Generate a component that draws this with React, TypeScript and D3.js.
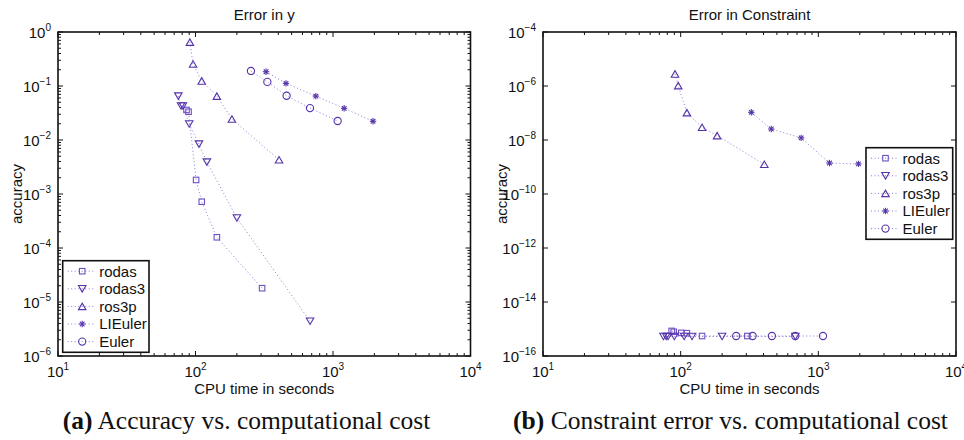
import React from "react";
import * as d3 from "d3";

// ---------- data ----------
const seriesNames = ["rodas", "rodas3", "ros3p", "LIEuler", "Euler"];

const rodasTime = [86, 89, 101, 111, 143, 305];
const rodasErrY = [0.036, 0.0334, 0.00182, 7.2e-4, 1.58e-4, 1.8e-5];
const rodasErrC = [8.5e-16, 7.9e-16, 7.2e-16, 7e-16, 5.5e-16, 5.5e-16];

const rodas3Time = [75, 78.5, 81, 90, 106, 121, 200, 681];
const rodas3ErrY = [0.065, 0.0426, 0.0426, 0.0198, 0.0084, 0.0039, 3.6e-4, 4.4e-6];
const rodas3ErrC = [5.3e-16, 5.3e-16, 5.3e-16, 5.3e-16, 5.3e-16, 5.3e-16, 5.3e-16, 5.3e-16];

const ros3pTime = [91, 96, 111, 143, 184, 405];
const ros3pErrY = [0.65, 0.255, 0.124, 0.065, 0.0245, 0.0043];
const ros3pErrC = [2.8e-6, 1.03e-6, 1.03e-7, 2.95e-8, 1.45e-8, 1.26e-9];

const lieulerTime = [326, 455, 750, 1205, 1955];
const lieulerErrY = [0.184, 0.112, 0.065, 0.0386, 0.0222];
const lieulerErrC = [1.06e-7, 2.55e-8, 1.2e-8, 1.4e-9, 1.3e-9];

const eulerTime = [253, 333, 460, 680, 1081];
const eulerErrY = [0.19, 0.119, 0.066, 0.039, 0.0225];
const eulerErrC = [5.5e-16, 5.5e-16, 5.5e-16, 5.5e-16, 5.5e-16];

const xTickExps = [1, 2, 3, 4];
const yTickExpsLeft = [0, -1, -2, -3, -4, -5, -6];
const yTickExpsRight = [-4, -6, -8, -10, -12, -14, -16];

const titles = ["Error in y", "Error in Constraint"];
const xLabel = "CPU time in seconds";
const yLabel = "accuracy";
const captionLetters = ["(a)", "(b)"];
const captionTexts = [" Accuracy vs. computational cost", " Constraint error vs. computational cost"];

// ---------- styling ----------
const markerColor = "#5532a8";
const rodasColor = "#6d4fc2";
const lineColor = "#8a7ad8";
const sans = "'Liberation Sans', Arial, Helvetica, sans-serif";
const serif = "'Liberation Serif', 'Times New Roman', serif";
const FS = 15;

type Series = { name: string; x: number[]; y: number[]; marker: string; color: string };

function Marker({ type, cx, cy, color }: { type: string; cx: number; cy: number; color: string }) {
  const sw = 1.1;
  if (type === "square") {
    const s = 5.5;
    return <rect x={cx - s / 2} y={cy - s / 2} width={s} height={s} fill="none" stroke={color} strokeWidth={sw} />;
  }
  if (type === "down") {
    const w = 7.5, h = 6.5;
    return (
      <path
        d={`M${cx - w / 2},${cy - h / 2}L${cx + w / 2},${cy - h / 2}L${cx},${cy + h / 2}Z`}
        fill="none" stroke={color} strokeWidth={sw}
      />
    );
  }
  if (type === "up") {
    const w = 7.5, h = 6.5;
    return (
      <path
        d={`M${cx - w / 2},${cy + h / 2}L${cx + w / 2},${cy + h / 2}L${cx},${cy - h / 2}Z`}
        fill="none" stroke={color} strokeWidth={sw}
      />
    );
  }
  if (type === "star") {
    const r = 3.2, d = 2.3;
    return (
      <g stroke={color} strokeWidth={1.1}>
        <line x1={cx - r} y1={cy} x2={cx + r} y2={cy} />
        <line x1={cx} y1={cy - r} x2={cx} y2={cy + r} />
        <line x1={cx - d} y1={cy - d} x2={cx + d} y2={cy + d} />
        <line x1={cx - d} y1={cy + d} x2={cx + d} y2={cy - d} />
      </g>
    );
  }
  return <circle cx={cx} cy={cy} r={3.6} fill="none" stroke={color} strokeWidth={sw} />;
}

function PowerLabel({ x, y, exp, anchor }: { x: number; y: number; exp: number; anchor: string }) {
  const e = exp < 0 ? "\u2212" + Math.abs(exp) : String(exp);
  return (
    <text x={x} y={y} textAnchor={anchor} fontFamily={sans} fontSize={FS} fill="#111">
      10<tspan dy={-7} fontSize={10}>{e}</tspan>
    </text>
  );
}

function Panel({
  x0, x1, y0, y1, yDomain, yTicks, series, title, legend, yMinor,
}: {
  x0: number; x1: number; y0: number; y1: number; yDomain: [number, number]; yTicks: number[];
  series: Series[]; title: string; legend: { x: number; y: number; w: number; h: number }; yMinor: boolean;
}) {
  const xs = d3.scaleLog().domain([10, 10000]).range([x0, x1]);
  const ys = d3.scaleLog().domain(yDomain).range([y1, y0]);
  const line = d3.line<[number, number]>().x((d) => xs(d[0])).y((d) => ys(d[1]));

  const xMinor: number[] = [];
  for (let e = 1; e < 4; e++) for (let m = 2; m <= 9; m++) xMinor.push(m * Math.pow(10, e));
  const yMinorVals: number[] = [];
  if (yMinor) {
    const lo = Math.round(Math.log10(yDomain[0]));
    const hi = Math.round(Math.log10(yDomain[1]));
    for (let e = lo; e < hi; e++) for (let m = 2; m <= 9; m++) yMinorVals.push(m * Math.pow(10, e));
  }
  const maj = 5, mnr = 3;

  return (
    <g>
      <text x={(x0 + x1) / 2} y={20} textAnchor="middle" fontFamily={sans} fontSize={FS} fill="#111">{title}</text>
      {series.map((s) => (
        <path
          key={s.name + "l"}
          d={line(s.x.map((v, i) => [v, s.y[i]] as [number, number])) || ""}
          fill="none" stroke={lineColor} strokeWidth={1} strokeDasharray="1,2.5"
        />
      ))}
      {series.map((s) =>
        s.x.map((v, i) => (
          <Marker key={s.name + i} type={s.marker} cx={xs(v)} cy={ys(s.y[i])} color={s.color} />
        ))
      )}
      <g stroke="#111" strokeWidth={1}>
        {xTickExps.map((e) => {
          const x = xs(Math.pow(10, e));
          return (
            <g key={"xt" + e}>
              <line x1={x} x2={x} y1={y1} y2={y1 - maj} />
              <line x1={x} x2={x} y1={y0} y2={y0 + maj} />
            </g>
          );
        })}
        {xMinor.map((v) => {
          const x = xs(v);
          return (
            <g key={"xm" + v}>
              <line x1={x} x2={x} y1={y1} y2={y1 - mnr} />
              <line x1={x} x2={x} y1={y0} y2={y0 + mnr} />
            </g>
          );
        })}
        {yTicks.map((e) => {
          const y = ys(Math.pow(10, e));
          return (
            <g key={"yt" + e}>
              <line x1={x0} x2={x0 + maj} y1={y} y2={y} />
              <line x1={x1} x2={x1 - maj} y1={y} y2={y} />
            </g>
          );
        })}
        {yMinorVals.map((v) => {
          const y = ys(v);
          return (
            <g key={"ym" + v}>
              <line x1={x0} x2={x0 + mnr} y1={y} y2={y} />
              <line x1={x1} x2={x1 - mnr} y1={y} y2={y} />
            </g>
          );
        })}
      </g>
      <rect x={x0} y={y0} width={x1 - x0} height={y1 - y0} fill="none" stroke="#111" strokeWidth={1.6} />
      {xTickExps.map((e) => (
        <PowerLabel key={"xl" + e} x={xs(Math.pow(10, e))} y={y1 + 21} exp={e} anchor="middle" />
      ))}
      {yTicks.map((e) => (
        <PowerLabel key={"yl" + e} x={x0 - 7} y={ys(Math.pow(10, e)) + 5.5} exp={e} anchor="end" />
      ))}
      <text x={(x0 + x1) / 2} y={y1 + 37.5} textAnchor="middle" fontFamily={sans} fontSize={FS} fill="#111">{xLabel}</text>
      <text
        transform={`translate(${x0 - 36},${(y0 + y1) / 2}) rotate(-90)`}
        textAnchor="middle" fontFamily={sans} fontSize={FS} fill="#111"
      >{yLabel}</text>
      <g>
        <rect x={legend.x} y={legend.y} width={legend.w} height={legend.h} fill="#fff" stroke="#111" strokeWidth={1.6} />
        {series.map((s, i) => {
          const ly = legend.y + 10.5 + i * 17.6;
          return (
            <g key={"lg" + s.name}>
              <line x1={legend.x + 5} x2={legend.x + 32} y1={ly} y2={ly} stroke={lineColor} strokeWidth={1} strokeDasharray="1,2.5" />
              <Marker type={s.marker} cx={legend.x + 19.5} cy={ly} color={s.color} />
              <text x={legend.x + 36.5} y={ly + 5.3} fontFamily={sans} fontSize={FS} fill="#111">{s.name}</text>
            </g>
          );
        })}
      </g>
    </g>
  );
}

export default function App() {
  const left: Series[] = [
    { name: seriesNames[0], x: rodasTime, y: rodasErrY, marker: "square", color: rodasColor },
    { name: seriesNames[1], x: rodas3Time, y: rodas3ErrY, marker: "down", color: markerColor },
    { name: seriesNames[2], x: ros3pTime, y: ros3pErrY, marker: "up", color: markerColor },
    { name: seriesNames[3], x: lieulerTime, y: lieulerErrY, marker: "star", color: markerColor },
    { name: seriesNames[4], x: eulerTime, y: eulerErrY, marker: "circle", color: markerColor },
  ];
  const right: Series[] = [
    { name: seriesNames[0], x: rodasTime, y: rodasErrC, marker: "square", color: rodasColor },
    { name: seriesNames[1], x: rodas3Time, y: rodas3ErrC, marker: "down", color: markerColor },
    { name: seriesNames[2], x: ros3pTime, y: ros3pErrC, marker: "up", color: markerColor },
    { name: seriesNames[3], x: lieulerTime, y: lieulerErrC, marker: "star", color: markerColor },
    { name: seriesNames[4], x: eulerTime, y: eulerErrC, marker: "circle", color: markerColor },
  ];
  return (
    <svg width={964} height={440} style={{ position: "absolute", left: 0, top: 0, background: "#fff" }}>
      <rect width={964} height={440} fill="#fff" />
      <Panel x0={58} x1={470.5} y0={32} y1={356} yDomain={[1e-6, 1]} yTicks={yTickExpsLeft}
        series={left} title={titles[0]} legend={{ x: 62.7, y: 260.7, w: 86.3, h: 91.6 }} yMinor={true} />
      <Panel x0={543} x1={956} y0={32} y1={356} yDomain={[1e-16, 1e-4]} yTicks={yTickExpsRight}
        series={right} title={titles[1]} legend={{ x: 866, y: 147.7, w: 86.7, h: 91.6 }} yMinor={false} />
      {[0, 1].map((i) => (
        <text key={"cap" + i} x={i === 0 ? 246.5 : 730.5} y={429} textAnchor="middle" fontFamily={serif} fontSize={25.5} fill="#111">
          <tspan fontWeight="bold">{captionLetters[i]}</tspan>{captionTexts[i]}
        </text>
      ))}
    </svg>
  );
}
